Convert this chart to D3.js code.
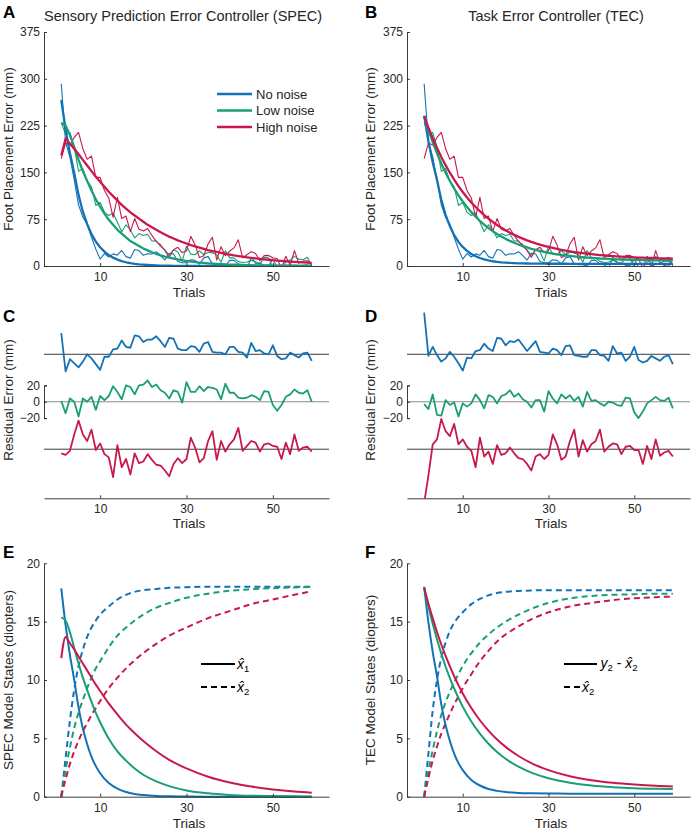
<!DOCTYPE html>
<html><head><meta charset="utf-8">
<script src="https://cdn.jsdelivr.net/npm/d3@7"></script>
<style>
body{margin:0;background:#fff}
svg{display:block}
</style>
</head><body>
<svg id="chart" width="693" height="834"></svg>
<script>
// ---------------- DATA ----------------
const trials = d3.range(1, 60); // trials 1..59
const seriesNames = ["No noise", "Low noise", "High noise"];
const xTicks = [10, 30, 50];
const yTicksError = [0, 75, 150, 225, 300, 375];
const yTicksResid = [-20, 0, 20];
const yTicksStates = [0, 5, 10, 15, 20];

// measured foot placement error (same data in A and B)
const dataNo = [292,198,175,138,98,78,67,46,27,11,20,14.5,19.4,17.3,24.9,15,12.6,26.5,24.7,17.1,19.6,19.2,22.9,16.7,9.6,20.4,19.3,7.2,5.2,5.1,10,9,3,13,15,3,2,2,0,9,9,3,2,-4,14,4,5,1,0,11,-2,-6,-5,2,-1,-4,1,2,-8];
const dataLow = [230,211,214,190,152,156,136,127,97,102,86,81,85,70,55,66,58,45,52,49,51,40,40.5,31,26,17.5,26,22.5,8.2,32,19,18,24.5,18,22,21,18,6,24.6,13,13,7,5.6,6.4,9,7,3,14,13,-3,-10,-3.5,6.5,9.5,15.4,11,10,14,0];
const dataHigh = [172,197,194,206,214,188,171,176,142,142,121,109,78,110,76,80,55,76,59,56,60,49,39,34,24.5,14,26,30,21.5,24,47.5,33.5,13.5,16.5,35.5,46,9.5,31,16.5,24,29,42,13,18,23,20,8.4,16.7,17,13.3,11.7,-4,15.6,1,24.6,4.2,7.8,8.4,2];

// SPEC model output (A, thick lines)
const specNo = [266,219,181,149,114,87,67,51,39,30,23,17.5,13.4,10.3,7.9,6.0,4.6,3.5,2.7,2.1,1.6,1.2,0.9,0.7,0.55,0.4,0.3,0.2,0.2,0.1,0.1,0.1,0,0,0,0,0,0,0,0,0,0,0,0,0,0,0,0,0,0,0,0,0,0,0,0,0,0,0];
const specLow = [229,225,210,190,170,152,136,121,107,95,84,74,66,58,52,46,40,36,32,28,25,22,19.5,17,15,13.5,12,10.5,9.2,8,7.2,6.3,5.5,4.9,4.3,3.8,3.3,2.9,2.6,2.3,2.0,1.8,1.6,1.4,1.2,1.1,1.0,0.9,0.8,0.7,0.6,0.55,0.5,0.45,0.4,0.35,0.3,0.3,0.3];
const specHigh = [177,204,196,188,179,170,161,152,143,135,127,119,112,105,98,92,86,81,76,71,66,62,58,54,50.5,47,44,41,38.5,36,33.5,31.5,29.5,27.5,25.5,24,22.5,21,19.5,18.2,17,16,15,14,13,12.2,11.4,10.7,10,9.3,8.7,8.1,7.6,7.1,6.6,6.2,5.8,5.4,5.0];

// TEC model output (B, thick lines)
const tecNo = [241,200,166,138,106,82,64,49.4,38.6,30.5,24.2,19.3,15.6,12.8,10.6,8.9,7.6,6.7,5.9,5.4,4.9,4.6,4.3,4.1,4.0,3.9,3.8,3.7,3.7,3.6,3.6,3.6,3.6,3.6,3.5,3.5,3.5,3.5,3.5,3.5,3.5,3.5,3.5,3.5,3.5,3.5,3.5,3.5,3.5,3.5,3.5,3.5,3.5,3.5,3.5,3.5,3.5,3.5,3.5];
const tecLow = [240,218,198.4,180.5,164.3,149.6,136.3,124.2,113.3,103.4,94.4,86.3,78.9,72.3,66.2,60.8,55.8,51.3,47.2,43.5,40.2,37.2,34.4,31.9,29.7,27.6,25.8,24.1,22.6,21.2,20.0,18.8,17.8,16.9,16.1,15.3,14.6,14.0,13.4,12.9,12.5,12.0,11.7,11.3,11.0,10.7,10.5,10.2,10.0,9.8,9.7,9.5,9.4,9.2,9.1,9.0,8.9,8.8,8.8];
const tecHigh = [240,221.6,204.7,189.1,174.8,161.6,149.5,138.3,128.1,118.6,109.9,101.9,94.6,87.8,81.6,75.9,70.6,65.7,61.3,57.2,53.4,49.9,46.7,43.8,41.1,38.6,36.3,34.2,32.3,30.5,28.9,27.4,26.0,24.7,23.5,22.4,21.4,20.5,19.7,18.9,18.2,17.5,16.9,16.4,15.9,15.4,15.0,14.6,14.2,13.9,13.5,13.3,13.0,12.8,12.5,12.3,12.1,12.0,11.8];

// residuals (C: SPEC, D: TEC)
const resSpecNo = [26,-21,-6,-11,-16,-9,0,-5,-12,-19,-3,-3,6,7,17,9,8,23,22,15,18,18,22,16,9,20,19,7,5,5,10,9,3,13,15,3,2,2,0,9,9,3,2,-4,14,4,5,1,0,11,-2,-6,-5,2,-1,-4,1,2,-8];
const resSpecLow = [1,-14,4,0,-18,4,0,6,-10,7,2,7,19,12,3,20,18,9,20,21,26,18,21,14,11,4,14,12,-1,24,12,12,19,13,18,17,15,3,22,11,11,5,4,5,8,6,2,13,12,-4,-11,-4,6,9,15,11,10,14,0];
const resSpecHigh = [-5,-7,-2,18,35,18,10,24,-1,7,-6,-10,-34,5,-22,-12,-31,-5,-17,-15,-6,-13,-19,-20,-26,-33,-18,-11,-17,-12,14,2,-16,-11,10,22,-13,10,-3,6,12,26,-2,4,10,8,-3,6,7,4,3,-12,8,-6,18,-2,2,3,-3];
const resTecNo = [51,-2,9,-1,-9,-5,3,-3,-11,-20,-4,-5,4,5,13,7,4,20,19,11,16,15,18,11,4,10,16,3,2,1,7,5,-1,10,11,-1,-2,-3,-3,5,5,-1,-2,-8,10,1,2,-8,-3,9,-7,-10,-8,-2,-5,-8,-3,-1,-12];
const resTecLow = [-3,-9,9,-16,-17,2,-4,-1,-18,-2,-6,-2,9,2,-8,8,6,-2,7,9,14,6,10,3,0,-7,2,2,-12,13,4,-2,9,4,8,1,6,-6,12,1,2,-2,-5,0,-1,-4,-5,5,4,-13,-20,-12,-2,2,6,2,1,5,-8];
const resTecHigh = [-66,-32,6,12,37,22,16,31,6,12,3,-2,-22,14,-9,-3,-18,5,-7,-5,2,-5,-11,-12,-18,-26,-9,-6,-12,-7,18,6,-13,-9,10,24,-9,11,-3,6,10,24,-3,3,7,6,-6,3,4,-1,-1,-18,4,-12,12,-8,-4,-2,-9];
const residOffsets = [58, 0, -58];

// model states (E: SPEC, F: TEC), sampled trials
const stateTrials = [1,2,3,4,5,6,7,8,9,10,12,14,16,18,20,23,26,30,35,40,45,50,55,59];
const specX1No = [17.85,14.70,12.15,10.0,7.65,5.84,4.50,3.42,2.62,2.01,1.17,0.69,0.40,0.23,0.14,0.06,0.03,0.01,0,0,0,0,0,0];
const specX1Low = [15.37,15.10,14.09,12.75,11.41,10.20,9.13,8.12,7.18,6.38,4.97,3.89,3.09,2.42,1.88,1.31,0.91,0.54,0.29,0.15,0.08,0.05,0.03,0.02];
const specX1High = [11.88,13.69,13.15,12.62,12.01,11.41,10.81,10.20,9.60,9.06,7.99,7.05,6.17,5.44,4.77,3.89,3.15,2.42,1.71,1.22,0.87,0.62,0.44,0.34];
const specX2No = [0,3.3,6.5,9.2,11.2,12.6,13.7,14.5,15.1,15.6,16.3,16.9,17.3,17.55,17.7,17.8,17.9,17.95,18.0,18.0,18.0,18.0,18.0,18.0];
const specX2Low = [0,2.3,4.2,5.9,7.2,8.3,9.3,10.2,11.0,11.6,12.8,13.8,14.5,15.1,15.6,16.2,16.6,17.05,17.4,17.65,17.78,17.87,17.93,17.97];
const specX2High = [0,1.5,2.8,3.9,4.8,5.6,6.3,7.0,7.6,8.2,9.3,10.2,11.0,11.7,12.3,13.1,13.8,14.5,15.3,15.9,16.5,16.9,17.3,17.6];
const tecY2No = [17.99,14.93,12.39,10.30,7.91,6.12,4.78,3.69,2.88,2.28,1.44,0.96,0.66,0.50,0.40,0.32,0.29,0.27,0.26,0.26,0.26,0.26,0.26,0.26];
const tecY2Low = [17.91,16.27,14.81,13.47,12.26,11.16,10.17,9.27,8.46,7.72,6.44,5.40,4.54,3.83,3.25,2.57,2.06,1.58,1.20,0.96,0.82,0.73,0.68,0.66];
const tecY2High = [17.91,16.54,15.28,14.11,13.04,12.06,11.16,10.32,9.56,8.85,7.60,6.55,5.66,4.90,4.27,3.49,2.88,2.28,1.75,1.41,1.19,1.04,0.93,0.88];
const tecX2No = [0,3.7,7.4,10.0,11.9,13.2,14.2,14.9,15.4,15.8,16.5,16.95,17.25,17.45,17.55,17.63,17.67,17.7,17.7,17.7,17.7,17.7,17.7,17.7];
const tecX2Low = [0,2.2,4.0,5.6,7.0,8.1,9.0,9.8,10.5,11.2,12.3,13.2,13.9,14.5,15.0,15.6,16.1,16.6,17.0,17.2,17.3,17.35,17.4,17.4];
const tecX2High = [0,1.6,3.1,4.3,5.4,6.3,7.1,7.9,8.6,9.3,10.5,11.6,12.5,13.3,13.9,14.6,15.2,15.8,16.3,16.6,16.85,17.0,17.1,17.15];

// ---------------- STYLE ----------------
const colors = ["#1372b6", "#1a9e77", "#c8194b"];
const FONT = '"Liberation Sans", Arial, Helvetica, sans-serif';
const INK = "#262626";
const svg = d3.select("#chart");
const defs = svg.append("defs");

const sides = { L: [44, 329], R: [407, 690] };
function makeX(side) { return d3.scaleLinear().domain([-3, 63]).range(sides[side]); }

function styleAxis(g, fs) {
  g.select(".domain").attr("stroke", INK).attr("stroke-width", 0.9);
  g.selectAll(".tick line").attr("stroke", INK).attr("stroke-width", 0.9);
  g.selectAll(".tick text").attr("fill", INK).style("font-family", FONT).style("font-size", fs + "px");
}
function addText(x, y, str, opts = {}) {
  const t = svg.append("text").attr("x", x).attr("y", y).text(str)
    .style("font-family", FONT).style("font-size", (opts.size || 13) + "px")
    .attr("fill", opts.fill || INK)
    .attr("text-anchor", opts.anchor || "start");
  if (opts.weight) t.style("font-weight", opts.weight);
  if (opts.italic) t.style("font-style", "italic");
  if (opts.rotate) t.attr("transform", `rotate(-90,${x},${y})`);
  return t;
}
function bottomAxis(x, yPix, pad) {
  const g = svg.append("g").attr("transform", `translate(0,${yPix})`)
    .call(d3.axisBottom(x).tickValues(xTicks).tickSizeInner(-3).tickSizeOuter(0).tickPadding(pad).tickFormat(d3.format("d")));
  styleAxis(g, 12);
}
function leftAxis(y, xPix, ticks, outer) {
  const g = svg.append("g").attr("transform", `translate(${xPix},0)`)
    .call(d3.axisLeft(y).tickValues(ticks).tickSizeInner(-3).tickSizeOuter(outer).tickPadding(4).tickFormat(d3.format("d")));
  styleAxis(g, 12);
}
function clip(id, x0, x1, y0, y1) {
  defs.append("clipPath").attr("id", id).append("rect")
    .attr("x", x0).attr("y", y0).attr("width", x1 - x0).attr("height", y1 - y0);
  return `url(#${id})`;
}

// ---------------- PANELS A/B ----------------
function errorPanel(side, models, letter, title, titleX) {
  const x = makeX(side);
  const y = d3.scaleLinear().domain([0, 375]).range([266, 32]);
  const [x0, x1] = sides[side];
  const cp = clip("clip" + letter, x0, x1, 30, 266);
  const g = svg.append("g").attr("clip-path", cp);
  const line = d3.line().x((d, i) => x(trials[i])).y(d => y(d));
  const datas = [dataNo, dataLow, dataHigh];
  datas.forEach((d, k) => g.append("path").attr("d", line(d)).attr("fill", "none")
    .attr("stroke", colors[k]).attr("stroke-width", 1.1).attr("stroke-linejoin", "round"));
  models.forEach((d, k) => g.append("path").attr("d", line(d)).attr("fill", "none")
    .attr("stroke", colors[k]).attr("stroke-width", 2.3).attr("stroke-linejoin", "round"));
  bottomAxis(x, 266, 6);
  leftAxis(y, x0, yTicksError, 0);
  addText(titleX, 21, title, { size: 14.5, anchor: "middle" });
  addText(side === "L" ? 3 : 365, 18, letter, { size: 17, weight: "bold", fill: "#000" });
  const lx = side === "L" ? 12.5 : 374.5;
  addText(lx, 149, "Foot Placement Error (mm)", { size: 13.5, anchor: "middle", rotate: true });
  addText((x0 + x1) / 2 + 2.5, 297, "Trials", { size: 13.5, anchor: "middle" });
}
errorPanel("L", [specNo, specLow, specHigh], "A", "Sensory Prediction Error Controller (SPEC)", 183);
errorPanel("R", [tecNo, tecLow, tecHigh], "B", "Task Error Controller (TEC)", 556);

// legend in A
seriesNames.forEach((n, k) => {
  const yy = 94 + k * 16.5;
  svg.append("line").attr("x1", 217).attr("x2", 252).attr("y1", yy).attr("y2", yy)
    .attr("stroke", colors[k]).attr("stroke-width", 2.5);
  addText(256, yy + 4.5, n, { size: 13 });
});

// ---------------- PANELS C/D ----------------
function residPanel(side, res, letter) {
  const x = makeX(side);
  const y = d3.scaleLinear().domain([-118, 118]).range([498.3, 305.2]);
  const [x0, x1] = sides[side];
  const baseColors = ["#3a3a3a", "#8a8a8a", "#3a3a3a"];
  residOffsets.forEach((o, k) => svg.append("line").attr("x1", x0).attr("x2", x1)
    .attr("y1", y(o)).attr("y2", y(o)).attr("stroke", baseColors[k]).attr("stroke-width", 1));
  const cp = clip("clip" + letter, x0, x1, 300, 498.3);
  const g = svg.append("g").attr("clip-path", cp);
  res.forEach((r, k) => {
    const line = d3.line().x((d, i) => x(trials[i])).y(d => y(d + residOffsets[k]));
    g.append("path").attr("d", line(r)).attr("fill", "none").attr("stroke", colors[k])
      .attr("stroke-width", 1.8).attr("stroke-linejoin", "round");
  });
  bottomAxis(x, 498.3, 6);
  const yb = d3.scaleLinear().domain([-20, 20]).range([y(-20), y(20)]);
  leftAxis(yb, x0, yTicksResid, -3);
  addText(side === "L" ? 3 : 365, 322, letter, { size: 17, weight: "bold", fill: "#000" });
  const lx = side === "L" ? 12.5 : 374.5;
  addText(lx, 400, "Residual Error (mm)", { size: 13.5, anchor: "middle", rotate: true });
  addText((x0 + x1) / 2 + 2.5, 528, "Trials", { size: 13.5, anchor: "middle" });
}
residPanel("L", [resSpecNo, resSpecLow, resSpecHigh], "C");
residPanel("R", [resTecNo, resTecLow, resTecHigh], "D");

// ---------------- PANELS E/F ----------------
function statePanel(side, solids, dashes, letter, ylabel) {
  const x = makeX(side);
  const y = d3.scaleLinear().domain([0, 20]).range([796.7, 563.3]);
  const [x0, x1] = sides[side];
  const line = d3.line().x((d, i) => x(stateTrials[i])).y(d => y(d)).curve(d3.curveMonotoneX);
  dashes.forEach((d, k) => svg.append("path").attr("d", line(d)).attr("fill", "none")
    .attr("stroke", colors[k]).attr("stroke-width", 2).attr("stroke-dasharray", "6,4"));
  solids.forEach((d, k) => svg.append("path").attr("d", line(d)).attr("fill", "none")
    .attr("stroke", colors[k]).attr("stroke-width", 2));
  bottomAxis(x, 796.7, 7);
  leftAxis(y, x0, yTicksStates, 0);
  addText(side === "L" ? 3 : 365, 558, letter, { size: 17, weight: "bold", fill: "#000" });
  const lx = side === "L" ? 12.5 : 374.5;
  addText(lx, 680, ylabel, { size: 13.5, anchor: "middle", rotate: true });
  addText((x0 + x1) / 2 + 2.5, 828, "Trials", { size: 13.5, anchor: "middle" });
}
statePanel("L", [specX1No, specX1Low, specX1High], [specX2No, specX2Low, specX2High], "E", "SPEC Model States (diopters)");
statePanel("R", [tecY2No, tecY2Low, tecY2High], [tecX2No, tecX2Low, tecX2High], "F", "TEC Model States (diopters)");

// legend helpers: one text element per label, with tspans
function legendLabel(xp, base, parts) {
  const t = svg.append("text").attr("x", xp).attr("y", base)
    .style("font-family", FONT).style("font-size", "14px").attr("fill", "#000");
  parts.forEach(p => {
    const s = t.append("tspan").text(p.t);
    if (p.i) s.style("font-style", "italic");
    if (p.sub) s.style("font-size", "9.5px").attr("dy", 3);
    if (p.up) s.attr("dy", -3);
  });
}
// E legend
svg.append("line").attr("x1", 201).attr("x2", 235).attr("y1", 664).attr("y2", 664).attr("stroke", "#000").attr("stroke-width", 2);
svg.append("line").attr("x1", 201).attr("x2", 235).attr("y1", 687).attr("y2", 687).attr("stroke", "#000").attr("stroke-width", 2).attr("stroke-dasharray", "6,4");
legendLabel(237, 669, [{ t: "x\u0302", i: true }, { t: "1", sub: true }]);
legendLabel(237, 692, [{ t: "x\u0302", i: true }, { t: "2", sub: true }]);
// F legend
svg.append("line").attr("x1", 564).attr("x2", 597).attr("y1", 664).attr("y2", 664).attr("stroke", "#000").attr("stroke-width", 2);
svg.append("line").attr("x1", 564).attr("x2", 580).attr("y1", 687).attr("y2", 687).attr("stroke", "#000").attr("stroke-width", 2).attr("stroke-dasharray", "6,4");
legendLabel(600.5, 668, [{ t: "y", i: true }, { t: "2", sub: true }, { t: " - ", up: true }, { t: "x\u0302", i: true }, { t: "2", sub: true }]);
legendLabel(582, 692, [{ t: "x\u0302", i: true }, { t: "2", sub: true }]);
</script>
</body></html>
